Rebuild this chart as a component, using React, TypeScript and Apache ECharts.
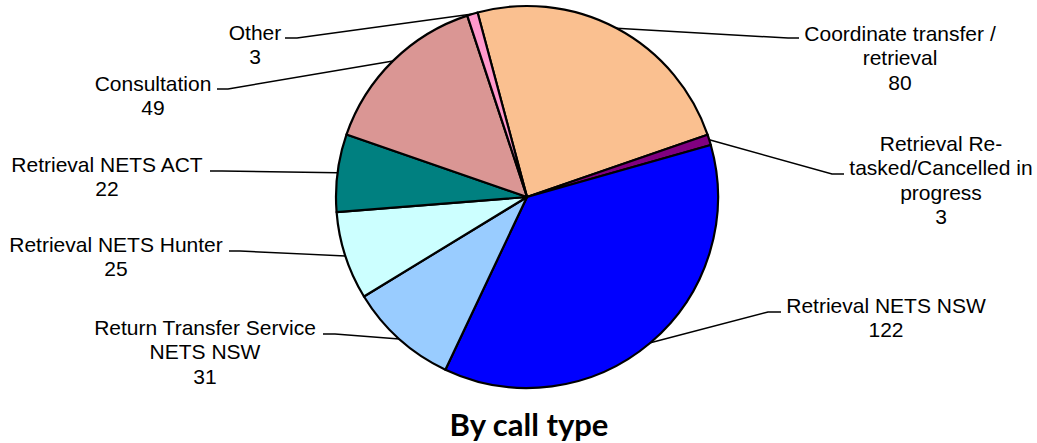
import React, { useEffect, useRef } from "react";
import * as echarts from "echarts";

const categories = [
  "Coordinate transfer /\nretrieval",
  "Retrieval Re-\ntasked/Cancelled in\nprogress",
  "Retrieval NETS NSW",
  "Return Transfer Service\nNETS NSW",
  "Retrieval NETS Hunter",
  "Retrieval NETS ACT",
  "Consultation",
  "Other",
];
const values = [80, 3, 122, 31, 25, 22, 49, 3];
const colors = ["#FAC090", "#800080", "#0000FF", "#99CCFF", "#CCFFFF", "#008080", "#DA9694", "#FF99CC"];

// label placement (layout only): center x, top y, line end point, tick end point
const labelPlaces = [
  { x: 900, y: 21, e: [788, 38], t: [799, 38] },
  { x: 941, y: 131, e: [832, 174], t: [844, 174] },
  { x: 886, y: 293, e: [768, 312], t: [781, 312] },
  { x: 205, y: 315, e: [335, 334], t: [323, 334] },
  { x: 116, y: 232, e: [240, 251], t: [229, 251] },
  { x: 107, y: 152, e: [222, 171], t: [210, 171] },
  { x: 153, y: 71, e: [228, 89], t: [217, 89] },
  { x: 255, y: 20, e: [297, 38], t: [285, 38] },
];

export default function App() {
  const ref = useRef<HTMLDivElement>(null);
  useEffect(() => {
    if (!ref.current) return;
    const chart = echarts.init(ref.current, null, { renderer: "svg" });
    chart.setOption({
      animation: false,
      backgroundColor: "#ffffff",
      title: {
        text: "By call type",
        left: 524,
        top: 403,
        textAlign: "center",
        textStyle: {
          fontFamily: "'Comic Sans MS', Lato, sans-serif",
          fontWeight: "bold",
          fontSize: 31,
          color: "#000000",
        },
      },
      series: [
        {
          type: "pie",
          center: [527, 197],
          radius: 191,
          startAngle: 105,
          clockwise: true,
          avoidLabelOverlap: false,
          itemStyle: { borderColor: "#000000", borderWidth: 2.2 },
          label: {
            show: true,
            position: "outside",
            formatter: "{b}\n{c}",
            fontFamily: "'Liberation Sans', Arial, sans-serif",
            fontSize: 21,
            lineHeight: 24.4,
            color: "#000000",
            align: "center",
          },
          labelLine: {
            show: true,
            length: 10,
            length2: 10,
            smooth: false,
            lineStyle: { color: "#000000", width: 1.5 },
          },
          labelLayout: (params: any) => {
            const p = labelPlaces[params.dataIndex];
            const pts = params.labelLinePoints;
            const res: any = { x: p.x, y: p.y, align: "center", verticalAlign: "top" };
            if (pts && pts.length) {
              res.labelLinePoints = [pts[0], p.e, p.t];
            }
            return res;
          },
          emphasis: { disabled: true },
          data: categories.map((name, i) => ({
            name,
            value: values[i],
            itemStyle: { color: colors[i] },
          })),
        },
      ],
    });
    return () => chart.dispose();
  }, []);
  return (
    <div
      ref={ref}
      style={{ position: "fixed", left: 0, top: 0, width: 1037, height: 443, background: "#fff" }}
    />
  );
}
